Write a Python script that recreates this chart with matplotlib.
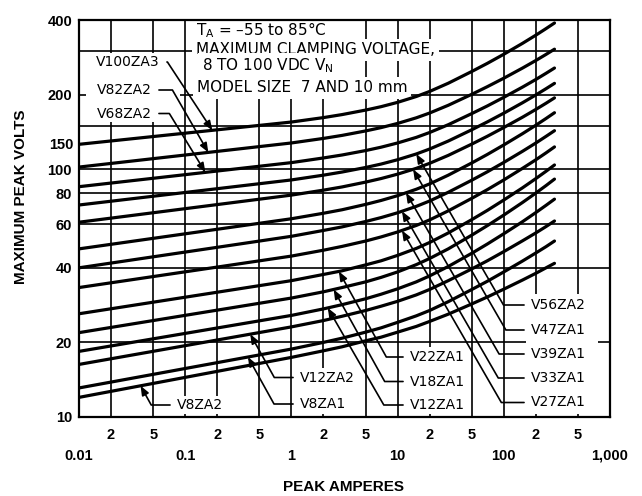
import numpy as np
import matplotlib
matplotlib.use("Agg")
import matplotlib.pyplot as plt
from matplotlib.patches import Rectangle

# ---------------- data ----------------
amps = [0.01, 1, 2, 3, 5, 7, 10, 15, 20, 30, 50, 70, 100, 150, 200, 250, 300]

V8ZA2 = [12.0, 17.4, 18.5, 19.2, 20.3, 21.0, 22.0, 23.2, 24.3, 26.0, 28.6, 30.5, 32.8, 35.7, 38.0, 40.0, 41.7]
V8ZA1 = [13.1, 18.8, 20.0, 20.8, 22.0, 22.9, 24.1, 25.6, 26.9, 29.2, 32.7, 35.3, 38.5, 42.6, 45.9, 48.7, 51.3]
V12ZA2 = [16.3, 23.1, 24.5, 25.5, 26.9, 28.0, 29.3, 31.1, 32.7, 35.5, 39.6, 42.7, 46.5, 51.4, 55.3, 58.7, 61.8]
V12ZA1 = [18.4, 25.7, 27.3, 28.4, 30.0, 31.3, 32.9, 35.1, 37.1, 40.5, 45.8, 49.9, 54.9, 61.4, 66.8, 71.5, 75.7]
V18ZA1 = [21.9, 30.2, 32.0, 33.3, 35.1, 36.6, 38.5, 41.2, 43.6, 47.7, 54.2, 59.2, 65.3, 73.4, 80.1, 85.9, 91.2]
V22ZA1 = [26.1, 35.5, 37.6, 38.9, 41.1, 42.7, 44.9, 47.9, 50.6, 55.3, 62.6, 68.2, 75.1, 84.1, 91.6, 98.1, 104]
V27ZA1 = [33.3, 44.6, 47.1, 48.8, 51.3, 53.3, 55.8, 59.3, 62.4, 67.9, 76.3, 82.7, 90.5, 100.8, 109.1, 116.4, 123]
V33ZA1 = [40.0, 53.6, 56.6, 58.5, 61.5, 63.8, 66.7, 70.8, 74.4, 80.7, 90.3, 97.6, 106.5, 118.1, 127.5, 135.7, 143]
V39ZA1 = [47.7, 63.1, 66.4, 68.6, 72.1, 74.8, 78.2, 83.0, 87.2, 94.6, 106.0, 114.7, 125.3, 139.1, 150.4, 160.2, 169]
V47ZA1 = [61.1, 78.6, 82.3, 84.8, 88.7, 91.7, 95.5, 100.8, 105.6, 113.7, 126.3, 135.8, 147.3, 162.1, 174.2, 184.6, 194]
V56ZA2 = [71.7, 90.5, 94.6, 97.4, 101.6, 104.9, 109.2, 115.2, 120.6, 129.9, 144.3, 155.2, 168.3, 185.4, 199.3, 211.3, 222]
V68ZA2 = [85.0, 106.3, 111.0, 114.1, 118.9, 122.7, 127.6, 134.4, 140.6, 151.2, 167.7, 180.0, 195.0, 214.4, 230.1, 243.8, 256]
V82ZA2 = [102, 127.6, 133.1, 136.9, 142.7, 147.2, 153.0, 161.2, 168.5, 181.1, 200.6, 215.3, 232.9, 255.9, 274.5, 290.6, 305]
V100ZA3 = [126, 155.0, 161.5, 166.1, 173.2, 178.8, 186.1, 196.5, 205.9, 222.3, 248.0, 267.4, 291.0, 322.0, 347.3, 369.3, 389]

models = ["V8ZA2", "V8ZA1", "V12ZA2", "V12ZA1", "V18ZA1", "V22ZA1", "V27ZA1",
          "V33ZA1", "V39ZA1", "V47ZA1", "V56ZA2", "V68ZA2", "V82ZA2", "V100ZA3"]
volts = [V8ZA2, V8ZA1, V12ZA2, V12ZA1, V18ZA1, V22ZA1, V27ZA1,
         V33ZA1, V39ZA1, V47ZA1, V56ZA2, V68ZA2, V82ZA2, V100ZA3]

x_major = [0.01, 0.1, 1, 10, 100, 1000]
x_major_labels = ["0.01", "0.1", "1", "10", "100", "1,000"]
x_minor = [0.02, 0.05, 0.2, 0.5, 2, 5, 20, 50, 200, 500]
x_minor_labels = ["2", "5", "2", "5", "2", "5", "2", "5", "2", "5"]
y_major = [10, 20, 40, 60, 80, 100, 150, 200, 400]
y_major_labels = ["10", "20", "40", "60", "80", "100", "", "200", "400"]
y_minor = [300]

# ---------------- figure ----------------
W, H = 642, 496
AX_L, AX_R, AX_T, AX_B = 79, 610, 20, 417
fig = plt.figure(figsize=(W / 100, H / 100), dpi=100)
ax = fig.add_axes([AX_L / W, (H - AX_B) / H, (AX_R - AX_L) / W, (AX_B - AX_T) / H])
ax.set_xscale("log")
ax.set_yscale("log")
ax.set_xlim(0.01, 1000)
ax.set_ylim(10, 400)

TICKFONT = dict(fontfamily="Liberation Sans", fontweight="bold", fontsize=10.5)
ax.set_xticks(x_major, labels=x_major_labels, **TICKFONT)
ax.set_xticks(x_minor, labels=x_minor_labels, minor=True, **TICKFONT)
ax.set_yticks(y_major, labels=y_major_labels, **TICKFONT)
ax.set_yticks(y_minor, labels=[""], minor=True)
ax.tick_params(axis="x", which="major", length=0, pad=23)
ax.tick_params(axis="x", which="minor", length=0, pad=8)
ax.tick_params(axis="y", which="both", length=0, pad=5)

ax.set_axisbelow(True)
ax.grid(True, which="both", color="black", lw=1.2)
for s in ax.spines.values():
    s.set_linewidth(1.6)

# "150" label sits below its grid line in the reference
ax.annotate("150", xy=(0, 150), xycoords=("axes fraction", "data"),
            xytext=(-3.6, -14), textcoords="offset points",
            ha="right", va="center", **TICKFONT)

# curves
for v in volts:
    ax.plot(amps, v, color="black", lw=2.3, solid_capstyle="round",
            solid_joinstyle="round", zorder=3)


def px2ax(px, py):
    return ((px - AX_L) / (AX_R - AX_L), (AX_B - py) / (AX_B - AX_T))


def white_box(px0, py0, px1, py1):
    x0, y1 = px2ax(px0, py0)
    x1, y0 = px2ax(px1, py1)
    ax.add_patch(Rectangle((x0, y0), x1 - x0, y1 - y0, transform=ax.transAxes,
                           facecolor="white", edgecolor="none", zorder=2))


def value_on(name, a):
    v = volts[models.index(name)]
    return 10 ** np.interp(np.log10(a), np.log10(amps), np.log10(v))


# white label areas hiding grid lines
white_box(86, 53, 180, 122)
white_box(526, 294, 598, 414)
white_box(406, 347, 462, 414)
white_box(296, 368, 362, 414)
white_box(173, 396, 230, 414)

ARROW = "-|>,head_length=0.55,head_width=0.22"

# labels on the right of their leader (leader goes left, then up-left)
right_labels = [
    ("V56ZA2", 15, 531, 305, 120),
    ("V47ZA1", 14, 531, 330, 120),
    ("V39ZA1", 12, 531, 354, 120),
    ("V33ZA1", 11, 531, 378, 120),
    ("V27ZA1", 11, 531, 402.5, 120),
    ("V22ZA1", 2.8, 410, 357, 119),
    ("V18ZA1", 2.5, 410, 381.5, 119),
    ("V12ZA1", 2.2, 410, 405, 120),
    ("V12ZA2", 0.41, 300, 377.5, 119),
    ("V8ZA1", 0.39, 300, 404, 119),
    ("V8ZA2", 0.038, 177, 405, 119),
]
for m, a, tx, ty, ang in right_labels:
    ax.annotate(m, xy=(a, value_on(m, a)), xycoords="data",
                xytext=px2ax(tx, ty), textcoords="axes fraction",
                ha="left", va="center", fontsize=10, zorder=6,
                arrowprops=dict(arrowstyle=ARROW,
                                connectionstyle=f"angle,angleA=0,angleB={ang},rad=0",
                                relpos=(0, 0.5), shrinkA=3, shrinkB=0,
                                lw=1.2, color="black", mutation_scale=10))

# labels on the left of their leader (leader goes right, then down-right)
left_labels = [
    ("V100ZA3", 0.18, 160, 62, -56.7),
    ("V82ZA2", 0.165, 152, 90, -60.1),
    ("V68ZA2", 0.155, 152, 113.5, -58.5),
]
for m, a, tx, ty, ang in left_labels:
    ax.annotate(m, xy=(a, value_on(m, a)), xycoords="data",
                xytext=px2ax(tx, ty), textcoords="axes fraction",
                ha="right", va="center", fontsize=10, zorder=6,
                arrowprops=dict(arrowstyle=ARROW,
                                connectionstyle=f"angle,angleA=0,angleB={ang},rad=0",
                                relpos=(1, 0.5), shrinkA=3, shrinkB=0,
                                lw=1.2, color="black", mutation_scale=10))

# header block (boxes below the curves so the top curve stays whole)
BOX = dict(facecolor="white", edgecolor="none", pad=2.5)
header = [
    (r"T$_{\mathrm{A}}$ = –55 to 85°C", 196, 30.5),
    ("MAXIMUM CLAMPING VOLTAGE,", 196, 50),
    ("8 TO 100 VDC V$_{\mathrm{N}}$", 202, 66),
    ("MODEL SIZE  7 AND 10 mm", 197, 88),
]
for t, px, py in header:
    ax.text(*px2ax(px, py), t, transform=ax.transAxes, ha="left", va="center",
            fontsize=11, bbox=BOX, zorder=2.5)

# axis titles
fig.text(21 / W, 1 - 197 / H, "MAXIMUM PEAK VOLTS", rotation=90, ha="center",
         va="center", fontfamily="Liberation Sans", fontweight="bold", fontsize=11)
fig.text(344 / W, 1 - 487 / H, "PEAK AMPERES", ha="center", va="center",
         fontfamily="Liberation Sans", fontweight="bold", fontsize=11)

fig.savefig("out.png", dpi=100, facecolor="white")
